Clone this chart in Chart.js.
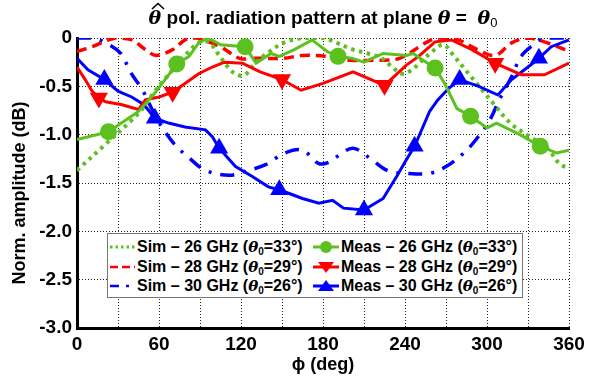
<!DOCTYPE html>
<html>
<head>
<meta charset="utf-8">
<script src="https://cdn.jsdelivr.net/npm/chart.js@4/dist/chart.umd.min.js"></script>
<style>
  html, body { margin: 0; padding: 0; background: #fff; }
  #wrap { position: relative; width: 590px; height: 378px; font-family: 'Liberation Sans', Arial, sans-serif; }
  #title { position: absolute; left: 77px; width: 492px; top: 6px; text-align: center; font-weight: bold; font-size: 19px; color: #000; white-space: nowrap; line-height: 22px; }
  #title i { font-family: 'DejaVu Serif', 'Liberation Serif', serif; font-size: 19px; }
  #title sub { font-size: 13px; font-weight: normal; vertical-align: -3px; }
  .hat { position: relative; display: inline-block; }
  .hat svg { position: absolute; left: 2px; top: -4px; }
  #legend { position: absolute; left: 107px; top: 233px; width: 414px; height: 63px; border: 1px solid #777; background: #fff; }
  .row { position: absolute; height: 20px; font-weight: bold; font-size: 16px; color: #000; white-space: nowrap; line-height: 20px; }
  .row svg { position: absolute; top: 0; }
  .row span { position: absolute; top: 0; }
  .row i { font-family: 'DejaVu Serif', 'Liberation Serif', serif; font-size: 15px; }
  .row sub { font-size: 10px; vertical-align: -3px; line-height: 0; }
</style>
</head>
<body>
<div id="wrap">
  <canvas id="c" width="590" height="378"></canvas>
  <div id="title"><span class="hat"><i>θ</i><svg width="14" height="8"><polyline points="1,7 7,1.5 13,7" fill="none" stroke="#000" stroke-width="1.6"/></svg></span> pol. radiation pattern at plane <i>θ</i> = &nbsp;<i>θ</i><sub>0</sub></div>
  <div id="legend"></div>
</div>
<script>
// ---------- data ----------
const sim26Phi = [0,20,40,48,57,70,79,90,97,104,111,117,123,131,141,151,165,180,190,202,213,223,229,238,245,252,260,268,276,286,296,306,317,329,344,353,360];
const sim26Val = [-1.37,-1.11,-0.85,-0.73,-0.55,-0.33,-0.18,-0.04,-0.05,-0.18,-0.31,-0.38,-0.38,-0.25,-0.14,-0.05,0,0,-0.05,-0.12,-0.16,-0.21,-0.28,-0.37,-0.33,-0.24,-0.14,-0.07,-0.19,-0.36,-0.53,-0.70,-0.88,-1.00,-1.14,-1.30,-1.35];

const sim28Phi = [0,11,28,40,50,58,70,79,87,92,105,119,131,151,165,183,200,217,236,255,264,279,293,306,318,330,342,357,360];
const sim28Val = [-0.14,-0.09,0,-0.02,-0.12,-0.18,-0.12,-0.02,0,-0.02,-0.09,-0.21,-0.21,-0.21,-0.18,-0.19,-0.23,-0.23,-0.21,-0.05,0,-0.02,-0.12,-0.18,-0.05,0,-0.04,-0.12,-0.13];

const sim30Phi = [0,11,21,32,39,48,55,62,72,82,94,111,123,138,152,165,177,185,192,202,214,227,241,258,270,283,292,302,309,318,325,334,342,352,360];
const sim30Val = [0,0,-0.05,-0.16,-0.35,-0.54,-0.74,-0.92,-1.11,-1.24,-1.37,-1.42,-1.38,-1.31,-1.19,-1.16,-1.30,-1.28,-1.21,-1.14,-1.24,-1.37,-1.40,-1.40,-1.33,-1.19,-1.05,-0.85,-0.64,-0.40,-0.19,-0.07,0,0,0];

const meas26Phi = [0,23,45,57,73,82,89,96,105,123,131,142,148,159,172,183,191,201,210,224,241,246,251,262,269,278,288,300,307,324,339,351,360];
const meas26Val = [-1.05,-0.97,-0.76,-0.57,-0.27,-0.19,-0.05,0,-0.07,-0.09,-0.26,-0.16,-0.19,-0.12,-0.02,-0.14,-0.19,-0.21,-0.25,-0.16,-0.18,-0.16,-0.21,-0.31,-0.47,-0.73,-0.81,-0.93,-0.88,-1.00,-1.12,-1.19,-1.16];
const meas26Markers = [23,73,123,191,262,288,339];

const meas28Phi = [0,6,11,16,21,33,45,50,60,70,79,89,99,108,121,134,150,164,180,202,225,241,250,262,274,289,306,325,342,360];
const meas28Val = [-0.30,-0.43,-0.55,-0.62,-0.66,-0.69,-0.74,-0.64,-0.61,-0.56,-0.47,-0.37,-0.30,-0.25,-0.26,-0.35,-0.43,-0.54,-0.47,-0.35,-0.49,-0.28,-0.19,-0.04,-0.02,-0.12,-0.26,-0.38,-0.38,-0.26];
const meas28Markers = [16,70,150,225,306];

const meas30Phi = [0,8,20,30,40,49,57,67,79,94,99,104,116,128,140,148,165,177,187,195,210,224,234,241,247,258,264,272,280,294,308,318,330,338,347,360];
const meas30Val = [-0.21,-0.33,-0.43,-0.55,-0.61,-0.69,-0.83,-0.88,-0.92,-0.95,-1.02,-1.14,-1.33,-1.43,-1.54,-1.57,-1.66,-1.71,-1.68,-1.76,-1.78,-1.66,-1.43,-1.26,-1.12,-0.76,-0.64,-0.52,-0.43,-0.50,-0.59,-0.43,-0.30,-0.21,-0.09,-0.02];
const meas30Markers = [20,57,104,148,210,247,280,338];

const xTicks = [0,60,120,180,240,300,360];
const legendLabels = [
  ['Sim – 26 GHz (', '=33°)'], ['Sim – 28 GHz (', '=29°)'], ['Sim – 30 GHz (', '=26°)'],
  ['Meas – 26 GHz (', '=33°)'], ['Meas – 28 GHz (', '=29°)'], ['Meas – 30 GHz (', '=26°)']
];

// ---------- styles ----------
const GREEN = '#5cc11e', RED = '#ff0000', BLUE = '#0000ff';
const FONT = "'Liberation Sans', Arial, sans-serif";

function pts(px, vy) { return px.map((x, i) => ({x: x, y: vy[i]})); }
function markerRadius(list, r) { return ctx => (ctx.raw && list.includes(ctx.raw.x)) ? r : 0; }

const datasets = [
  { label: 'meas26', data: pts(meas26Phi, meas26Val), borderColor: GREEN, backgroundColor: GREEN, borderWidth: 3,
    pointRadius: markerRadius(meas26Markers, 8.5), pointStyle: 'circle', pointBorderWidth: 0, pointBackgroundColor: GREEN, tension: 0, order: 1 },
  { label: 'meas28', data: pts(meas28Phi, meas28Val), borderColor: RED, backgroundColor: RED, borderWidth: 3,
    pointRadius: markerRadius(meas28Markers, 10.5), pointStyle: 'triangle', pointRotation: 180, pointBorderWidth: 0, pointBackgroundColor: RED, tension: 0, order: 1 },
  { label: 'meas30', data: pts(meas30Phi, meas30Val), borderColor: BLUE, backgroundColor: BLUE, borderWidth: 3,
    pointRadius: markerRadius(meas30Markers, 10.5), pointStyle: 'triangle', pointBorderWidth: 0, pointBackgroundColor: BLUE, tension: 0, order: 1 },
  { label: 'sim26', data: pts(sim26Phi, sim26Val), borderColor: GREEN, borderWidth: 4, borderDash: [3.5, 4.5], pointRadius: 0, tension: 0.35, order: 2 },
  { label: 'sim28', data: pts(sim28Phi, sim28Val), borderColor: RED, borderWidth: 3.5, borderDash: [10, 6], pointRadius: 0, tension: 0.35, order: 2 },
  { label: 'sim30', data: pts(sim30Phi, sim30Val), borderColor: BLUE, borderWidth: 3.5, borderDash: [14, 9, 3, 9], pointRadius: 0, tension: 0.35, order: 2 }
];

new Chart(document.getElementById('c'), {
  type: 'line',
  data: { datasets: datasets },
  options: {
    responsive: false, animation: false, devicePixelRatio: 1,
    layout: { padding: { left: 0, right: 21, top: 38, bottom: 0 } },
    plugins: { legend: { display: false }, title: { display: false }, tooltip: { enabled: false } },
    events: [],
    scales: {
      x: {
        type: 'linear', min: 0, max: 360,
        afterBuildTicks: s => { const t = []; for (let v = 0; v <= 360; v += 30) t.push({value: v}); s.ticks = t; },
        afterFit: s => { s.height = 50; },
        ticks: { autoSkip: false, maxRotation: 0, color: '#000', padding: 5,
                 font: { family: FONT, size: 19, weight: 'bold' },
                 callback: v => xTicks.includes(v) ? String(v) : '' },
        grid: { color: '#222', lineWidth: 1, drawTicks: false },
        border: { display: true, color: '#000', width: 3, dash: [1, 2] },
        title: { display: true, text: 'ϕ (deg)', color: '#000', padding: { top: 0, bottom: 2 },
                 font: { family: FONT, size: 18, weight: 'bold' } }
      },
      y: {
        min: -3, max: 0,
        afterBuildTicks: s => { const t = []; for (let v = -3; v <= 0.0001; v += 0.5) t.push({value: Math.round(v * 10) / 10}); s.ticks = t; },
        afterFit: s => { s.width = 77; },
        ticks: { color: '#000', padding: 5,
                 font: { family: FONT, size: 19, weight: 'bold' },
                 callback: v => v === 0 ? '0' : v.toFixed(1) },
        grid: { color: '#222', lineWidth: 1, drawTicks: false },
        border: { display: true, color: '#000', width: 3, dash: [1, 2] },
        title: { display: true, text: 'Norm. amplitude (dB)\u00a0\u00a0\u00a0\u00a0', color: '#000', padding: { top: 9, bottom: 0 },
                 font: { family: FONT, size: 18, weight: 'bold' } }
      }
    }
  }
});

// ---------- legend (HTML overlay) ----------
const legend = document.getElementById('legend');
const rowsY = [3, 23, 42];
const samples = [
  '<line x1="1" y1="10" x2="26" y2="10" stroke="' + GREEN + '" stroke-width="3" stroke-dasharray="2.5 3"/>',
  '<line x1="1" y1="10" x2="26" y2="10" stroke="' + RED + '" stroke-width="2.5" stroke-dasharray="8 4"/>',
  '<line x1="1" y1="10" x2="26" y2="10" stroke="' + BLUE + '" stroke-width="2.5" stroke-dasharray="9 7 3 7"/>',
  '<line x1="0" y1="10" x2="26" y2="10" stroke="' + GREEN + '" stroke-width="3"/><circle cx="13" cy="10" r="6" fill="' + GREEN + '"/>',
  '<line x1="0" y1="10" x2="26" y2="10" stroke="' + RED + '" stroke-width="3"/><polygon points="5,5 21,5 13,16" fill="' + RED + '"/>',
  '<line x1="0" y1="10" x2="26" y2="10" stroke="' + BLUE + '" stroke-width="3"/><polygon points="5,15 21,15 13,4" fill="' + BLUE + '"/>'
];
legendLabels.forEach((lab, i) => {
  const col = i < 3 ? 0 : 1;
  const r = i % 3;
  const div = document.createElement('div');
  div.className = 'row';
  div.style.left = (col === 0 ? 1 : 205) + 'px';
  div.style.top = rowsY[r] + 'px';
  div.innerHTML = '<svg width="28" height="20" style="left:0">' + samples[i] + '</svg>' +
    '<span style="left:28px">' + lab[0] + '<i>θ</i><sub>0</sub>' + lab[1] + '</span>';
  legend.appendChild(div);
});
</script>
</body>
</html>
